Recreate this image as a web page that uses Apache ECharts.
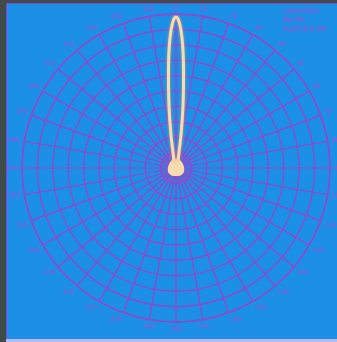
<!DOCTYPE html>
<html>
<head>
<meta charset="utf-8">
<script src="https://cdn.jsdelivr.net/npm/echarts@6/dist/echarts.min.js"></script>
<style>
  html, body { margin: 0; padding: 0; background: #3f4a4b; }
  #frame { position: absolute; left: 6px; top: 3px; width: 331px; height: 339px; background: #1c8fe6;
           border-left: 1px solid #8a3fd0; border-top: 1px solid #7a48c8; box-sizing: border-box; }
  #strip { position: absolute; left: 6px; top: 339px; width: 331px; height: 3px; background: #b9b6f2; }
  #chart { position: absolute; left: 0; top: 0; width: 337px; height: 342px; }
</style>
</head>
<body>
<div id="frame"></div>
<div id="strip"></div>
<div id="chart"></div>
<script>
// Main beam: angle in degrees (0 = boresight, clockwise), radius in grid units
const mainAngles = [-16, -12, -10, -9, -8, -7, -6, -5, -4, -3, -2, -1, 0, 1, 2, 3, 4, 5, 6, 7, 8, 9, 10, 12, 16];
const mainRadius = [0.5, 0.8, 1.3, 1.9, 2.6, 3.5, 4.5, 5.6, 6.9, 8.1, 9.0, 9.6, 9.8, 9.6, 9.0, 8.1, 6.9, 5.6, 4.5, 3.5, 2.6, 1.9, 1.3, 0.8, 0.5];
// Back lobes around the origin
const backAngles = [0, 16, 40, 70, 100, 130, 160, 180, 200, 230, 260, 290, 320, 344, 360];
const backRadius = [0.5, 0.5, 0.45, 0.42, 0.45, 0.48, 0.45, 0.42, 0.45, 0.48, 0.45, 0.42, 0.45, 0.5, 0.5];
const ringMax = 10;
const angleStep = 10;
const legendLines = ['Lakeshore', 'Bw RX', 'Sub/16.0 dB'];

const gridColor = '#9d42c8';
const beamColor = '#f6dcae';
const chart = echarts.init(document.getElementById('chart'), null, { renderer: 'canvas' });
chart.setOption({
  backgroundColor: 'transparent',
  animation: false,
  polar: { center: [176, 168], radius: 154 },
  angleAxis: {
    type: 'value', min: 0, max: 360, interval: angleStep, startAngle: 90, clockwise: true,
    axisLine: { show: true, lineStyle: { color: gridColor, width: 1.3 } },
    axisTick: { show: false },
    splitLine: { show: true, lineStyle: { color: gridColor, width: 1.2 } },
    axisLabel: {
      show: true, color: '#b04ad0', fontSize: 6, margin: 4, fontFamily: 'DejaVu Sans',
      formatter: v => (v >= 360 ? '' : String(v))
    }
  },
  radiusAxis: {
    type: 'value', min: 0, max: ringMax, interval: 1,
    axisLine: { show: false }, axisTick: { show: false }, axisLabel: { show: false },
    splitLine: { show: true, lineStyle: { color: gridColor, width: 1.2 } }
  },
  graphic: legendLines.map((t, i) => ({
    type: 'text', left: 283, top: 8 + i * 9,
    style: { text: t, fill: '#b04ad0', fontSize: 7, fontFamily: 'DejaVu Sans' }
  })),
  series: [{
    type: 'line', coordinateSystem: 'polar', smooth: 0.3, symbol: 'none',
    data: backAngles.map((a, i) => [backRadius[i], a]),
    lineStyle: { color: beamColor, width: 3 },
    areaStyle: { color: beamColor, opacity: 1 }
  }, {
    type: 'line', coordinateSystem: 'polar', smooth: 0.3, symbol: 'none',
    data: mainAngles.map((a, i) => [mainRadius[i], (a + 360) % 360]),
    lineStyle: { color: beamColor, width: 3, shadowColor: 'rgba(255,160,90,0.8)', shadowBlur: 3 }
  }]
});
</script>
</body>
</html>
